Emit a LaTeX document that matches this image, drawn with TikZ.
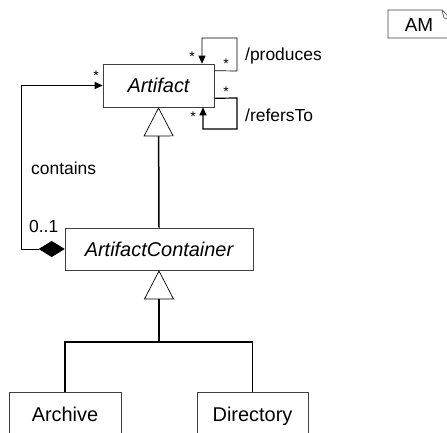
\documentclass[tikz,border=0pt]{standalone}
\usepackage{fontspec}
\setmainfont{Liberation Sans}
\usetikzlibrary{arrows.meta}
\begin{document}
\begin{tikzpicture}[x=1bp,y=-1bp,
  cls/.style={draw=black!75,line width=0.6bp,inner sep=0pt,text height=14.3bp,text depth=0pt,font=\fontsize{20}{22}\selectfont},
  lbl/.style={inner sep=0pt,font=\fontsize{17.5}{19}\selectfont},
  mult/.style={inner sep=0pt,font=\fontsize{14}{15}\selectfont},
  assoc/.style={line width=0.7bp,-{Triangle[length=8bp,width=7bp]}},
  gen/.style={line width=1.5bp,-{Triangle[open,length=29bp,width=30bp,line width=0.7bp]}},
  genline/.style={line width=1.5bp}]
\useasboundingbox (0,0) rectangle (447,433);
\fill[white] (0,0) rectangle (447,433);
\clip (0,0) rectangle (447,433);
% classes
\node[cls,minimum width=111bp,minimum height=43bp] (art) at (158.5,85.5) {\itshape Artifact};
\node[cls,minimum width=188bp,minimum height=42bp] (ac) at (159,249) {\itshape ArtifactContainer};
\node[cls,minimum width=112bp,minimum height=44bp] (arch) at (65,414) {Archive};
\node[cls,minimum width=111bp,minimum height=44bp] (dir) at (252.5,414) {Directory};
% note AM
\draw[black!75,line width=0.6bp] (388,10) -- (442,10) -- (452,20) -- (452,38) -- (388,38) -- cycle;
\draw[black!75,line width=0.6bp] (442,10) -- (444,18) -- (452,20);
\node[inner sep=0pt,font=\fontsize{19}{21}\selectfont] (am) at (419,25) {AM};
% generalizations
\coordinate (j) at (159,342);
\draw[genline] (arch.north) |- (j) -| (dir.north);
\draw[gen] (j) -- (ac.south);
\draw[gen] (ac.north) -- (art.south);
% produces
\coordinate (p1) at (237,71);
\coordinate (p2) at (237,38);
\coordinate (p3) at (202,38);
\draw[assoc] ([yshift=-7bp]art.north east) -- (p1) -- (p2) -- (p3) -- ([xshift=43.5bp]art.north);
\node[mult] (s1) at (192,57) {*};
\node[mult] (s2) at (226,64) {*};
\node[lbl,anchor=west] (prod) at (245,56) {/produces};
% refersTo
\coordinate (r1) at (237,98);
\coordinate (r2) at (237,129);
\coordinate (r3) at (203,129);
\draw[assoc,line width=1.2bp] ([yshift=9bp]art.south east) -- (r1) -- (r2) -- (r3) -- ([xshift=44.5bp]art.south);
\node[mult] (s3) at (226,92) {*};
\node[mult] (s4) at (193,117) {*};
\node[lbl,anchor=west] (ref) at (245,115) {/refersTo};
% contains
\coordinate (c1) at (21,249);
\draw[line width=0.7bp,{Diamond[length=26bp,width=16bp]}-{Triangle[length=8bp,width=7bp]}] (ac.west) -- (c1) |- (art.west);
\node[mult] (s5) at (96,76) {*};
\node[lbl,anchor=west] (cont) at (31,168) {contains};
\node[lbl,anchor=west] (zo) at (29,226) {0..1};
\end{tikzpicture}
\end{document}
